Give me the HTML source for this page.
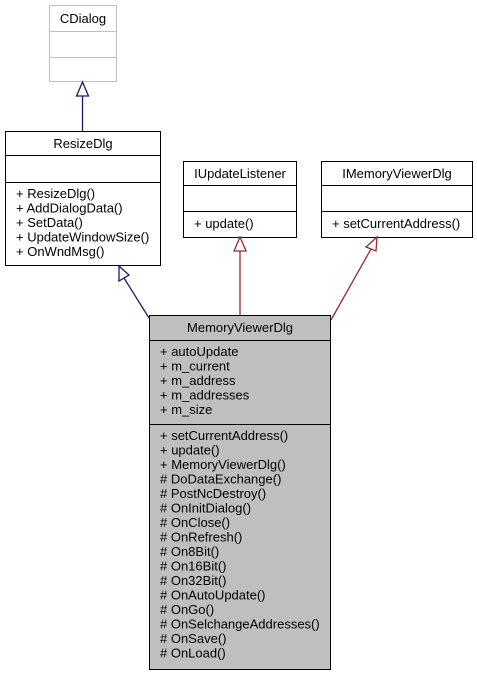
<!DOCTYPE html>
<html><head><style>body{margin:0;background:#fff}svg{display:block}text{font-family:"Liberation Sans",sans-serif;font-size:13px;fill:#000}</style></head>
<body>
<svg width="477" height="676" xmlns="http://www.w3.org/2000/svg">
<rect x="49.5" y="5.5" width="67" height="76" fill="#fff" stroke="#bfbfbf"/>
<line x1="49" y1="31.5" x2="117" y2="31.5" stroke="#bfbfbf"/>
<line x1="49" y1="57.5" x2="117" y2="57.5" stroke="#bfbfbf"/>
<text x="83" y="23" text-anchor="middle">CDialog</text>
<line x1="82.5" y1="96" x2="82.5" y2="131" stroke="#191970" stroke-width="1.3"/>
<polygon points="82.5,82 76.5,96 88.5,96" fill="#fff" stroke="#191970" stroke-width="1.3"/>
<rect x="5.5" y="131.5" width="155" height="134" fill="#fff" stroke="#000"/>
<line x1="5" y1="155.5" x2="161" y2="155.5" stroke="#000"/>
<line x1="5" y1="182.5" x2="161" y2="182.5" stroke="#000"/>
<text x="83" y="148" text-anchor="middle">ResizeDlg</text>
<text x="16" y="198">+ ResizeDlg()</text>
<text x="16" y="212.5">+ AddDialogData()</text>
<text x="16" y="227">+ SetData()</text>
<text x="16" y="241.5">+ UpdateWindowSize()</text>
<text x="16" y="256">+ OnWndMsg()</text>
<rect x="183.5" y="161.5" width="113" height="76" fill="#fff" stroke="#000"/>
<line x1="183" y1="185.5" x2="297" y2="185.5" stroke="#000"/>
<line x1="183" y1="211.5" x2="297" y2="211.5" stroke="#000"/>
<text x="240" y="178" text-anchor="middle">IUpdateListener</text>
<text x="194" y="228">+ update()</text>
<rect x="321.5" y="161.5" width="151" height="76" fill="#fff" stroke="#000"/>
<line x1="321" y1="185.5" x2="473" y2="185.5" stroke="#000"/>
<line x1="321" y1="211.5" x2="473" y2="211.5" stroke="#000"/>
<text x="397" y="178" text-anchor="middle">IMemoryViewerDlg</text>
<text x="332" y="228">+ setCurrentAddress()</text>
<line x1="124" y1="278" x2="149" y2="318" stroke="#191970" stroke-width="1.3"/>
<polygon points="119,266 119,281 129,275" fill="#fff" stroke="#191970" stroke-width="1.3"/>
<line x1="240" y1="251" x2="240" y2="315" stroke="#9a2a2a" stroke-width="1.3"/>
<polygon points="240,237 234,251 246,251" fill="#fff" stroke="#9a2a2a" stroke-width="1.3"/>
<line x1="371" y1="249" x2="331" y2="320" stroke="#9a2a2a" stroke-width="1.3"/>
<polygon points="377,237 366,247 376,251" fill="#fff" stroke="#9a2a2a" stroke-width="1.3"/>
<rect x="149.5" y="315.5" width="181" height="354" fill="#bfbfbf" stroke="#000"/>
<line x1="149" y1="340.5" x2="331" y2="340.5" stroke="#000"/>
<line x1="149" y1="424.5" x2="331" y2="424.5" stroke="#000"/>
<text x="240" y="332" text-anchor="middle">MemoryViewerDlg</text>
<text x="160" y="356">+ autoUpdate</text>
<text x="160" y="370.5">+ m_current</text>
<text x="160" y="385">+ m_address</text>
<text x="160" y="399.5">+ m_addresses</text>
<text x="160" y="414">+ m_size</text>
<text x="160" y="440">+ setCurrentAddress()</text>
<text x="160" y="454.5">+ update()</text>
<text x="160" y="469">+ MemoryViewerDlg()</text>
<text x="160" y="483.5"># DoDataExchange()</text>
<text x="160" y="498"># PostNcDestroy()</text>
<text x="160" y="512.5"># OnInitDialog()</text>
<text x="160" y="527"># OnClose()</text>
<text x="160" y="541.5"># OnRefresh()</text>
<text x="160" y="556"># On8Bit()</text>
<text x="160" y="570.5"># On16Bit()</text>
<text x="160" y="585"># On32Bit()</text>
<text x="160" y="599.5"># OnAutoUpdate()</text>
<text x="160" y="614"># OnGo()</text>
<text x="160" y="628.5"># OnSelchangeAddresses()</text>
<text x="160" y="643"># OnSave()</text>
<text x="160" y="657.5"># OnLoad()</text>
</svg>
</body></html>
